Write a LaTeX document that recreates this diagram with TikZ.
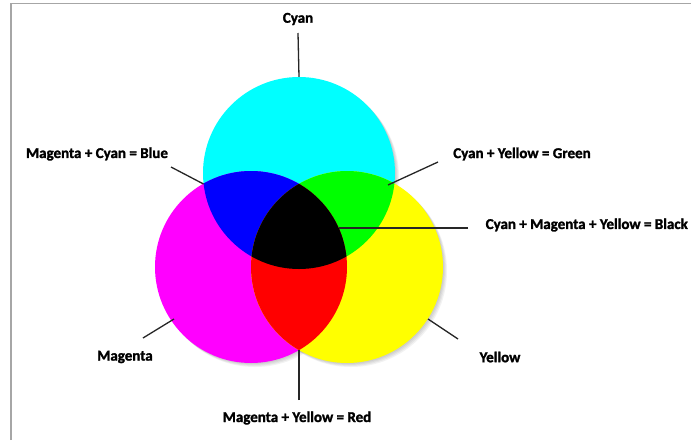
\documentclass[tikz,border=0pt]{standalone}
\usepackage{fontspec}
\setmainfont{Carlito}
\newfontfamily\heavyfont[FakeBold=1.6]{Carlito Bold}
\usetikzlibrary{calc}
\begin{document}
\begin{tikzpicture}[x=1pt,y=-1pt,
  lbl/.style={font=\heavyfont\fontsize{15}{18}\selectfont, inner sep=0pt, text=black},
  conn/.style={draw=black!85, line width=1.3pt},
  disc/.style={circle, minimum size=192pt, inner sep=0pt},
  shade/.style={fill=black, opacity=0.05}]
\useasboundingbox (0,0) rectangle (691,440);
\fill[white] (0,0) rectangle (691,440);
% frame
\draw[gray!70, line width=1.5pt] (11,440) -- (11,3.5) -- (691,3.5);
% centres
\coordinate (cc) at (299,173);
\coordinate (mc) at (251,267);
\coordinate (yc) at (347,267);
% soft shadows
\foreach \d in {1,2,3,4}{
  \fill[shade] ($(cc)+(\d,\d)$) circle (96);
  \fill[shade] ($(mc)+(\d,\d)$) circle (96);
  \fill[shade] ($(yc)+(\d,\d)$) circle (96);
}
% circles
\node[disc, fill={rgb,255:red,0;green,255;blue,255}] (C) at (cc) {};
\node[disc, fill={rgb,255:red,255;green,0;blue,255}] (M) at (mc) {};
\node[disc, fill={rgb,255:red,255;green,255;blue,0}] (Y) at (yc) {};
% overlaps
\begin{scope}
  \clip (cc) circle (96);
  \fill[blue] (mc) circle (96);
  \fill[green] (yc) circle (96);
\end{scope}
\begin{scope}
  \clip (mc) circle (96);
  \fill[red] (yc) circle (96);
\end{scope}
\begin{scope}
  \clip (cc) circle (96);
  \clip (mc) circle (96);
  \fill[black] (yc) circle (96);
\end{scope}
% anchor points on the circles
\coordinate (pBlue) at (203.5,184);
\coordinate (pGreen) at (388,185);
\coordinate (pBlack) at (339,228);
\coordinate (pMag) at (174,319);
\coordinate (pYel) at (428,319);
\coordinate (pRed) at (299,350);
% labels
\node[lbl] (tC) at (298,19) {Cyan};
\node[lbl] (tB) at (97,154) {Magenta + Cyan = Blue};
\node[lbl] (tG) at (522,154) {Cyan + Yellow = Green};
\node[lbl, anchor=east] (tK) at (688,225) {Cyan + Magenta + Yellow = Black};
\node[lbl] (tM) at (125,357) {Magenta};
\node[lbl] (tY) at (500,357) {Yellow};
\node[lbl] (tR) at (297,418) {Magenta + Yellow = Red};
% connector start points
\coordinate (sC) at (298,33);
\coordinate (sB) at (171,167);
\coordinate (sG) at (438,162);
\coordinate (sK) at (468,228);
\coordinate (sM) at (143,338);
\coordinate (sY) at (458,339);
\coordinate (sR) at (299,400);
% connectors
\draw[conn] (sC) -- (C.north);
\draw[conn] (sB) -- (pBlue);
\draw[conn] (sG) -- (pGreen);
\draw[conn] (sK) -- (pBlack);
\draw[conn] (sM) -- (pMag);
\draw[conn] (sY) -- (pYel);
\draw[conn] (sR) -- (pRed);
\end{tikzpicture}
\end{document}
